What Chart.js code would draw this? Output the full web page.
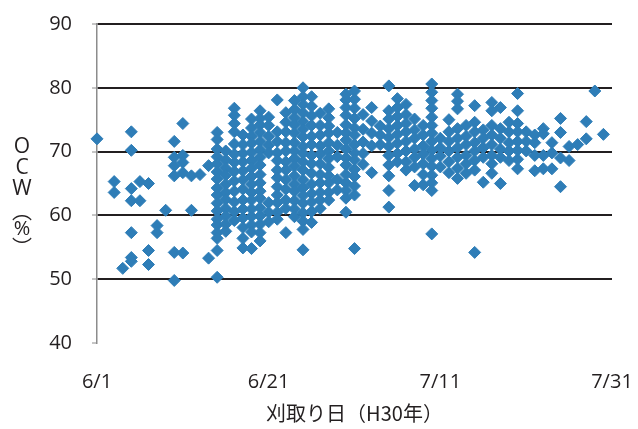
<!DOCTYPE html>
<html>
<head>
<meta charset="utf-8">
<script src="https://cdn.jsdelivr.net/npm/chart.js@4"></script>
<style>
  html, body { margin: 0; padding: 0; background: #fff; }
</style>
</head>
<body>
<canvas id="ocwChart" width="638" height="429"></canvas>
<script>
// tick labels (x = days since 6/1)
const xTickLabels = ['6/1', '6/21', '7/11', '7/31'];
const yTickValues = [40, 50, 60, 70, 80, 90];

// harvest day (days after 6/1) and the OCW values measured that day
const harvestDays = [0, 2, 3, 4, 5, 6, 7, 8, 9, 10, 11, 12, 13, 14, 15, 16, 17, 18, 19, 20,
    21, 22, 23, 24, 25, 26, 27, 28, 29, 30, 31, 32, 33, 34, 35, 36, 37, 38, 39, 40,
    41, 42, 43, 44, 45, 46, 47, 48, 49, 50, 51, 52, 53, 54, 55, 56, 57, 58, 59];

const ocwByDay = [
    [72.0],
    [65.3, 63.6],
    [51.7],
    [73.1, 70.2, 64.2, 62.3, 57.3, 53.4, 52.8],
    [65.3, 62.3],
    [65.0, 54.5, 52.3],
    [58.4, 57.3],
    [60.8],
    [71.6, 69.1, 67.8, 66.2, 54.2, 49.8],
    [74.4, 69.4, 68.3, 66.7, 54.1],
    [66.2, 60.8],
    [66.4],
    [67.8, 53.3],
    [73.0, 71.9, 70.4, 69.2, 68.1, 66.8, 65.7, 64.3, 63.2, 61.9, 60.7, 59.4, 58.5, 57.3, 56.4, 54.5, 50.3],
    [70.1, 68.7, 67.4, 66.3, 64.9, 63.6, 62.5, 61.1, 59.9, 58.6, 57.5],
    [76.8, 75.7, 74.4, 73.1, 71.2, 69.6, 68.3, 66.9, 65.4, 63.8, 62.1, 60.6, 59.2],
    [72.6, 71.1, 69.7, 68.4, 67.0, 65.6, 64.1, 62.4, 61.0, 59.6, 58.1, 56.4, 54.9],
    [75.1, 73.7, 72.4, 71.3, 69.9, 68.6, 67.4, 66.1, 64.9, 63.6, 62.4, 61.0, 59.8, 58.5, 57.4, 54.8],
    [76.4, 75.2, 74.2, 73.0, 71.6, 70.3, 69.1, 67.9, 66.4, 65.1, 63.8, 62.7, 61.2, 59.9, 58.6, 57.3, 56.0],
    [75.4, 74.1, 72.4, 71.0, 69.8, 62.0, 60.5, 59.0],
    [78.1, 73.1, 71.6, 69.8, 68.6, 67.1, 65.9, 64.5, 63.2, 62.0, 60.5, 59.4],
    [76.1, 74.6, 73.1, 71.4, 70.1, 68.4, 67.1, 65.6, 64.1, 62.4, 61.1, 57.3],
    [78.0, 76.6, 75.3, 74.2, 72.9, 71.4, 70.1, 68.9, 67.7, 66.2, 64.9, 63.8, 62.3, 61.0, 59.8],
    [80.0, 78.6, 77.4, 76.1, 74.7, 73.5, 72.3, 70.8, 69.7, 68.4, 67.1, 65.6, 64.3, 63.1, 61.9, 60.4, 59.1, 57.8, 54.6],
    [78.6, 77.1, 75.6, 74.1, 72.4, 71.1, 69.4, 68.1, 66.6, 64.9, 63.4, 62.1, 60.6, 58.9],
    [76.0, 74.1, 72.6, 70.9, 69.6, 68.1, 66.4, 65.1, 63.6, 62.4, 61.1],
    [76.7, 75.3, 74.0, 72.9, 71.4, 70.1, 68.9, 67.5, 66.2, 65.1, 63.6, 62.4],
    [73.0, 71.0, 69.2, 65.6, 64.0],
    [79.0, 78.1, 76.9, 75.7, 74.2, 72.9, 71.8, 70.4, 69.0, 67.9, 66.4, 65.1, 63.9, 62.7, 60.5],
    [79.5, 78.2, 76.8, 75.2, 73.7, 72.6, 71.1, 69.8, 68.7, 67.2, 66.1, 64.6, 63.2, 54.8],
    [75.8, 73.5, 71.5, 69.7, 68.0],
    [76.9, 74.8, 72.9, 70.9, 66.7],
    [74.0, 72.6, 71.1],
    [80.3, 76.4, 75.1, 73.6, 72.2, 70.8, 69.4, 67.9, 66.2, 63.9, 61.3],
    [78.3, 76.9, 75.5, 74.1, 72.7, 71.3, 69.7, 68.4],
    [77.4, 75.8, 74.4, 73.1, 71.6, 70.1, 68.4, 67.1],
    [75.1, 73.4, 72.1, 70.4, 69.1, 67.6, 64.7],
    [74.1, 72.6, 70.9, 69.6, 68.1, 66.4, 64.8],
    [80.6, 79.3, 78.0, 76.8, 75.4, 74.1, 72.9, 71.6, 70.2, 68.9, 67.7, 66.3, 65.1, 63.9, 57.1],
    [72.1, 70.6, 69.3, 67.6],
    [75.0, 73.1, 71.6, 70.1, 68.4, 66.7],
    [79.0, 77.9, 76.7, 73.6, 72.1, 70.6, 69.1, 67.4, 65.8],
    [74.1, 72.4, 71.1, 69.4, 68.1, 66.6],
    [77.2, 74.6, 73.1, 71.4, 70.1, 68.6, 67.1, 54.2],
    [73.4, 72.1, 70.6, 69.1, 65.2],
    [77.7, 76.4, 74.1, 72.6, 71.1, 69.4, 68.1, 66.6],
    [76.9, 73.6, 72.1, 70.4, 69.1, 65.0],
    [74.6, 73.1, 71.4, 70.1, 68.6],
    [79.1, 76.4, 74.4, 73.1, 71.6, 70.2, 68.8, 67.3],
    [73.1, 71.6, 70.1],
    [72.6, 71.4, 69.4, 67.0],
    [73.6, 72.8, 69.4, 67.3],
    [71.4, 69.8, 67.3],
    [75.2, 73.0, 69.0, 64.5],
    [70.8, 68.6],
    [71.1],
    [74.7, 72.0],
    [79.5],
    [72.7]
];

const points = [];
harvestDays.forEach((d, i) => {
    ocwByDay[i].forEach(v => points.push({ x: d, y: v }));
});

const textColor = '#231f20';
const tickFont = { family: "'Open Sans', 'Noto Sans', sans-serif", size: 20 };

// vertical y-axis title: O C W (%) stacked
const yTitlePlugin = {
    id: 'yTitle',
    afterDraw(chart) {
        const ctx = chart.ctx;
        const cx = 22;
        ctx.save();
        ctx.fillStyle = textColor;
        ctx.font = "21px 'Open Sans', 'Noto Sans', sans-serif";
        ctx.textAlign = 'center';
        ctx.textBaseline = 'middle';
        ctx.fillText('O', cx, 147);
        ctx.fillText('C', cx, 168);
        ctx.fillText('W', cx, 189);
        ctx.font = "20px 'Open Sans', 'Noto Sans', sans-serif";
        ctx.fillText('%', cx, 229);
        ctx.font = "20px 'Noto Sans CJK JP', sans-serif";
        ctx.fillText('︵', cx, 211);
        ctx.fillText('︶', cx, 247);
        ctx.restore();
    }
};

new Chart(document.getElementById('ocwChart'), {
    type: 'scatter',
    data: {
        datasets: [{
            label: 'OCW',
            data: points,
            pointStyle: 'rectRot',
            pointRadius: 6,
            pointHoverRadius: 6,
            backgroundColor: '#2e7db7',
            borderColor: '#2e7db7',
            borderWidth: 1,
            clip: false
        }]
    },
    options: {
        responsive: false,
        animation: false,
        layout: { padding: { top: 24, right: 26, bottom: 0, left: 0 } },
        plugins: {
            legend: { display: false },
            tooltip: { enabled: false }
        },
        scales: {
            x: {
                type: 'linear',
                min: 0,
                max: 60,
                afterBuildTicks: scale => {
                    scale.ticks = xTickLabels.map((_, i) => ({ value: i * 20 }));
                },
                afterFit: scale => {
                    scale.height = 86;
                    scale.paddingLeft = 0;
                    scale.paddingRight = 0;
                },
                ticks: {
                    font: tickFont,
                    color: textColor,
                    padding: 19,
                    maxRotation: 0,
                    callback: v => xTickLabels[v / 20]
                },
                grid: { display: false },
                border: { display: false },
                title: {
                    display: true,
                    text: '刈取り日（H30年）',
                    color: textColor,
                    font: { family: "'Noto Sans CJK JP', 'Open Sans', sans-serif", size: 20 },
                    padding: { top: 0, bottom: 4 }
                }
            },
            y: {
                min: 40,
                max: 90,
                afterBuildTicks: scale => {
                    scale.ticks = yTickValues.map(v => ({ value: v }));
                },
                afterFit: scale => {
                    scale.width = 97;
                    scale.paddingTop = 0;
                    scale.paddingBottom = 0;
                },
                ticks: {
                    font: tickFont,
                    color: textColor,
                    padding: 20
                },
                grid: {
                    color: c => (c.tick && c.tick.value === 40) ? 'rgba(0,0,0,0)' : textColor,
                    lineWidth: 2,
                    drawTicks: true,
                    tickLength: 5,
                    tickColor: '#8c8c8c',
                    tickWidth: 1
                },
                border: { display: true, color: '#8c8c8c', width: 1.5 }
            }
        }
    },
    plugins: [yTitlePlugin]
});
</script>
</body>
</html>
